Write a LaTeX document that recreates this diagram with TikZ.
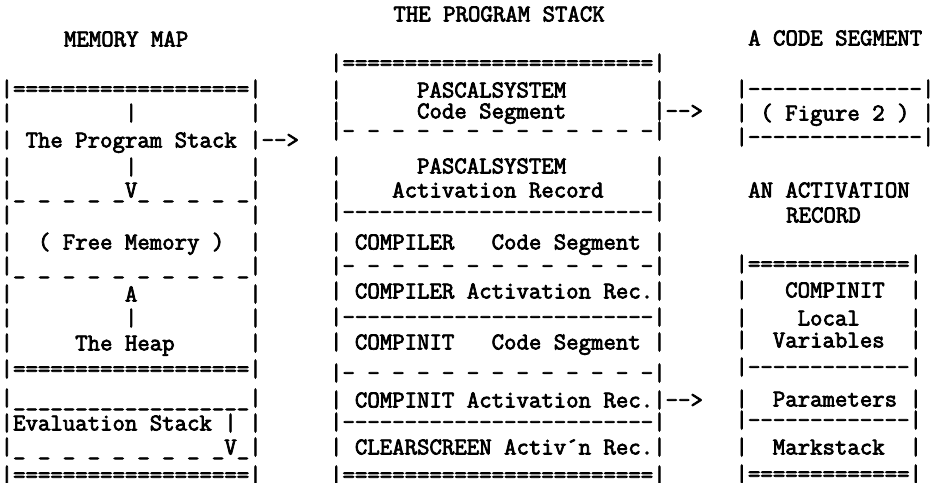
\documentclass[tikz,border=0pt]{standalone}
\usepackage{fontspec}
\setmonofont{Latin Modern Mono}[Ligatures=TeXOff, FakeBold=3]
\tikzset{
    typed/.style={
        anchor=base west, inner sep=0pt, outer sep=0pt,
        font=\ttfamily\fontsize{24.13}{25}\selectfont
    },
}
% one typewriter line: name, column, row height, text
\newcommand{\pitch}{12.67}
\newcommand{\typeline}[4]{\node[typed] (#1) at ({0.67+\pitch*#2}, {#3+7.4}) {#4};}

\begin{document}
\begin{tikzpicture}[x=1pt, y=-1pt]
    \useasboundingbox (0,0) rectangle (941,482);
    \frenchspacing

    % MEMORY MAP
    \typeline{mmtitle}{5}{39}{MEMORY MAP}
    \typeline{mm1}{0}{89}{|===================|}
    \typeline{mm2}{0}{113}{|~~~~~~~~~|~~~~~~~~~|}
    \typeline{mm3}{0}{140}{| The Program Stack |-->}
    \typeline{mm4}{0}{167}{|~~~~~~~~~|~~~~~~~~~|}
    \typeline{mm5}{0}{190}{|\_ \_ \_ \_ \_V\_ \_ \_ \_ \_|}
    \typeline{mm6}{0}{215}{|~~~~~~~~~~~~~~~~~~~|}
    \typeline{mm7}{0}{242}{|~~( Free Memory )~~|}
    \typeline{mm8}{0}{266}{|\_ \_ \_ \_ \_ \_ \_ \_ \_ \_|}
    \typeline{mm9}{0}{294}{|~~~~~~~~~A~~~~~~~~~|}
    \typeline{mm10}{0}{318}{|~~~~~~~~~|~~~~~~~~~|}
    \typeline{mm11}{0}{343}{|~~~~~The Heap~~~~~~|}
    \typeline{mm12}{0}{369}{|===================|}
    \typeline{mm13}{0}{398}{|\_\_\_\_\_\_\_\_\_\_\_\_\_\_\_\_\_\_\_|}
    \typeline{mm14}{0}{423}{|Evaluation Stack |~|}
    \typeline{mm15}{0}{447}{|\_ \_ \_ \_ \_ \_ \_ \_ \_V\_|}
    \typeline{mm16}{0}{475}{|===================|}

    % THE PROGRAM STACK
    \typeline{pstitle}{31}{14}{THE PROGRAM STACK}
    \typeline{ps1}{26}{63}{|=========================|}
    \typeline{ps2}{26}{90}{|~~~~~~PASCALSYSTEM~~~~~~~|}
    \typeline{ps3}{26}{111}{|~~~~~~Code Segment~~~~~~~|-->}
    \typeline{ps4}{26}{131}{|- - - - - - - - - - - - -|}
    \typeline{ps5}{26}{166}{|~~~~~~PASCALSYSTEM~~~~~~~|}
    \typeline{ps6}{26}{190}{|~~~~Activation Record~~~~|}
    \typeline{ps7}{26}{212}{|-------------------------|}
    \typeline{ps8}{26}{242}{| COMPILER~~~Code Segment |}
    \typeline{ps9}{26}{266}{|- - - - - - - - - - - - -|}
    \typeline{ps10}{26}{291}{| COMPILER Activation Rec.|}
    \typeline{ps11}{26}{317}{|-------------------------|}
    \typeline{ps12}{26}{342}{| COMPINIT~~~Code Segment |}
    \typeline{ps13}{26}{373}{|- - - - - - - - - - - - -|}
    \typeline{ps14}{26}{400}{| COMPINIT Activation Rec.|-->}
    \typeline{ps15}{26}{422}{|-------------------------|}
    \typeline{ps16}{26}{447}{| CLEARSCREEN Activ´n Rec.|}
    \typeline{ps17}{26}{475}{|=========================|}

    % A CODE SEGMENT
    \typeline{cstitle}{59}{38}{A CODE SEGMENT}
    \typeline{cs1}{58}{89}{|--------------|}
    \typeline{cs2}{58}{113}{| ( Figure 2 ) |}
    \typeline{cs3}{58}{137}{|--------------|}

    % AN ACTIVATION RECORD
    \typeline{artitle1}{59}{190}{AN ACTIVATION}
    \typeline{artitle2}{62}{215}{RECORD}
    \typeline{ar1}{58}{264}{|=============|}
    \typeline{ar2}{58}{290}{|~~~COMPINIT~~|}
    \typeline{ar3}{58}{318}{|~~~~Local~~~~|}
    \typeline{ar4}{58}{340}{|~~Variables~~|}
    \typeline{ar5}{58}{367}{|-------------|}
    \typeline{ar6}{58}{399}{|~~Parameters~|}
    \typeline{ar7}{58}{420}{|-------------|}
    \typeline{ar8}{58}{447}{|~~Markstack~~|}
    \typeline{ar9}{58}{474}{|=============|}

\end{tikzpicture}
\end{document}
